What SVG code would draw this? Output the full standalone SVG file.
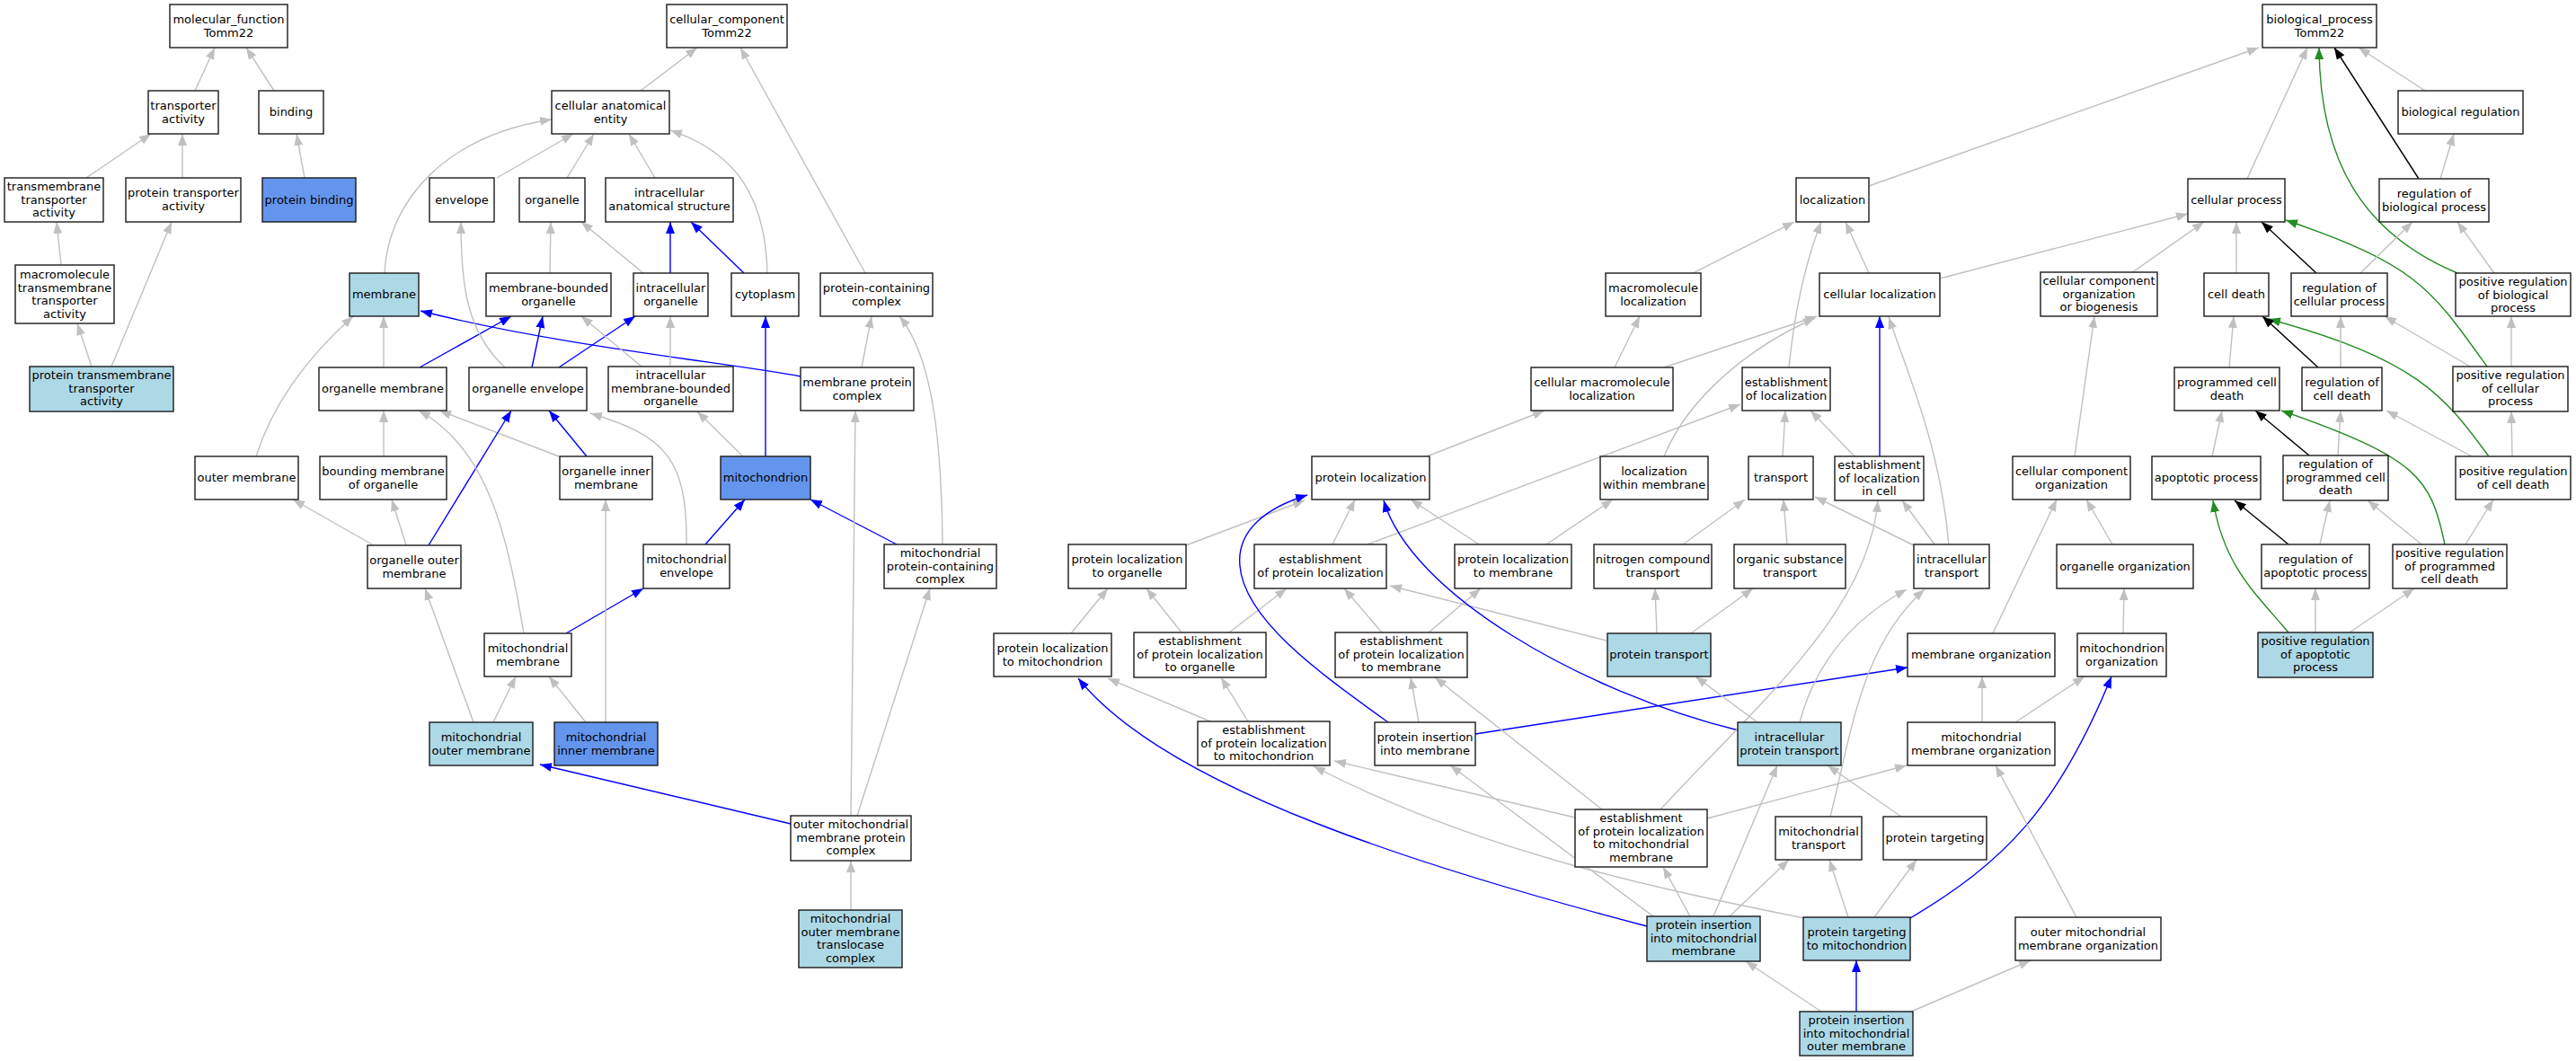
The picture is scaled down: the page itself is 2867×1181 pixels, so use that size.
<svg xmlns="http://www.w3.org/2000/svg" width="2867" height="1181" viewBox="0 0 2867 1181">
<defs>
<marker id="ag" markerWidth="13" markerHeight="10" refX="13" refY="5" orient="auto" markerUnits="userSpaceOnUse"><path d="M0,0 L13,5 L0,10 z" fill="#c0c0c0"/></marker>
<marker id="ab" markerWidth="13" markerHeight="10" refX="13" refY="5" orient="auto" markerUnits="userSpaceOnUse"><path d="M0,0 L13,5 L0,10 z" fill="#0000ff"/></marker>
<marker id="ak" markerWidth="13" markerHeight="10" refX="13" refY="5" orient="auto" markerUnits="userSpaceOnUse"><path d="M0,0 L13,5 L0,10 z" fill="#000000"/></marker>
<marker id="agr" markerWidth="13" markerHeight="10" refX="13" refY="5" orient="auto" markerUnits="userSpaceOnUse"><path d="M0,0 L13,5 L0,10 z" fill="#228b22"/></marker>
</defs>
<style>
.n rect{fill:#ffffff;stroke:#1a1a1a;stroke-width:1.4}
.lb rect{fill:#add8e6}
.cb rect{fill:#6495ed}
text{font-family:"DejaVu Sans","Liberation Sans",sans-serif;font-size:13px;text-anchor:middle;fill:#000}
#edges path{fill:none;stroke-width:1.4}
#edges .g{stroke:#c0c0c0;marker-end:url(#ag)}
#edges .b{stroke:#0000ff;marker-end:url(#ab)}
#edges .k{stroke:#000000;marker-end:url(#ak)}
#edges .gr{stroke:#228b22;marker-end:url(#agr)}
</style>
<rect x="0" y="0" width="2867" height="1181" fill="#ffffff"/>
<g id="edges">
<path class="g" d="M217,101 L239,53"/>
<path class="g" d="M305,101 L274,53"/>
<path class="g" d="M96,198 L168,149"/>
<path class="g" d="M203,198 L203,149"/>
<path class="g" d="M339,198 L330,149"/>
<path class="g" d="M68,295 L63,247"/>
<path class="g" d="M102,408 L86,360"/>
<path class="g" d="M124,408 L191,247"/>
<path class="g" d="M713,101 L776,53"/>
<path class="g" d="M963,304 L824,53"/>
<path class="g" d="M428,304 C432,220 500,150 614,133"/>
<path class="g" d="M553,198 L638,149"/>
<path class="g" d="M631,198 L661,149"/>
<path class="g" d="M729,198 L700,149"/>
<path class="g" d="M854,304 C852,220 820,170 746,145"/>
<path class="b" d="M746,304 L746,247"/>
<path class="b" d="M828,304 L769,247"/>
<path class="g" d="M716,304 L647,247"/>
<path class="g" d="M612,304 L613,247"/>
<path class="g" d="M427,409 L427,352"/>
<path class="g" d="M285,508 C305,445 345,395 393,352"/>
<path class="b" d="M891,419 C820,405 620,385 468,346"/>
<path class="b" d="M467,409 L569,352"/>
<path class="b" d="M592,409 L604,352"/>
<path class="b" d="M622,409 L707,352"/>
<path class="g" d="M562,409 C520,370 513,320 513,247"/>
<path class="g" d="M714,408 L647,352"/>
<path class="g" d="M746,408 L746,352"/>
<path class="b" d="M653,508 L611,457"/>
<path class="g" d="M622,508 L489,457"/>
<path class="b" d="M477,607 L569,457"/>
<path class="g" d="M416,607 L326,556"/>
<path class="g" d="M452,607 L436,556"/>
<path class="g" d="M427,508 L427,457"/>
<path class="g" d="M583,705 C565,600 545,500 466,457"/>
<path class="g" d="M764,606 C765,510 740,485 657,460"/>
<path class="b" d="M630,705 L716,655"/>
<path class="g" d="M827,508 L776,458"/>
<path class="b" d="M852,508 L852,352"/>
<path class="b" d="M785,606 L829,556"/>
<path class="b" d="M998,606 L902,556"/>
<path class="g" d="M1049,606 C1048,500 1040,400 1001,352"/>
<path class="g" d="M959,409 L970,352"/>
<path class="g" d="M947,908 L952,457"/>
<path class="g" d="M954,908 L1035,655"/>
<path class="b" d="M880,917 L601,851"/>
<path class="g" d="M947,1013 L947,958"/>
<path class="g" d="M527,804 L473,655"/>
<path class="g" d="M549,804 L574,753"/>
<path class="g" d="M652,804 L611,753"/>
<path class="g" d="M674,804 L674,556"/>
<path class="g" d="M2080,207 L2514,53"/>
<path class="g" d="M2501,199 L2568,53"/>
<path class="gr" d="M2735,304 C2630,260 2582,180 2581,53"/>
<path class="k" d="M2692,199 L2598,53"/>
<path class="g" d="M2699,101 L2625,53"/>
<path class="g" d="M2716,199 L2731,149"/>
<path class="g" d="M1884,304 L1997,247"/>
<path class="g" d="M1991,409 C1998,340 2010,290 2027,247"/>
<path class="g" d="M2080,304 L2054,247"/>
<path class="g" d="M2159,310 L2435,238"/>
<path class="g" d="M2372,304 L2453,247"/>
<path class="g" d="M2489,304 L2489,247"/>
<path class="k" d="M2578,304 L2517,247"/>
<path class="gr" d="M2768,408 C2705,320 2690,295 2544,245"/>
<path class="gr" d="M2770,508 C2720,440 2690,400 2525,355"/>
<path class="g" d="M2627,304 L2685,247"/>
<path class="g" d="M2776,304 L2735,247"/>
<path class="g" d="M1797,409 L1825,352"/>
<path class="g" d="M1852,409 L2022,352"/>
<path class="g" d="M1852,508 C1880,440 1950,385 2020,354"/>
<path class="g" d="M2481,409 L2486,352"/>
<path class="g" d="M2605,409 L2605,352"/>
<path class="g" d="M2749,408 L2654,352"/>
<path class="g" d="M2795,408 L2795,352"/>
<path class="k" d="M2580,409 L2518,352"/>
<path class="g" d="M1588,508 L1719,457"/>
<path class="g" d="M1984,508 L1987,457"/>
<path class="g" d="M2064,508 L2015,457"/>
<path class="b" d="M2092,508 L2092,352"/>
<path class="g" d="M2169,607 C2160,500 2125,420 2102,353"/>
<path class="g" d="M2309,508 L2331,352"/>
<path class="g" d="M2462,508 L2473,457"/>
<path class="k" d="M2570,507 L2510,457"/>
<path class="g" d="M2602,507 L2605,457"/>
<path class="g" d="M2751,508 L2656,457"/>
<path class="g" d="M2796,508 L2795,458"/>
<path class="gr" d="M2721,606 C2705,530 2690,510 2539,457"/>
<path class="g" d="M1320,607 L1452,557"/>
<path class="g" d="M1483,606 L1508,556"/>
<path class="g" d="M1522,606 L1937,450"/>
<path class="g" d="M1646,606 L1570,556"/>
<path class="g" d="M1721,606 L1795,556"/>
<path class="g" d="M1873,606 L1942,556"/>
<path class="g" d="M1989,606 L1985,556"/>
<path class="g" d="M2130,607 L2020,553"/>
<path class="g" d="M2153,606 L2117,557"/>
<path class="g" d="M2351,606 L2322,556"/>
<path class="k" d="M2547,606 L2487,557"/>
<path class="g" d="M2582,606 L2593,557"/>
<path class="g" d="M2695,606 L2635,557"/>
<path class="g" d="M2744,606 L2775,556"/>
<path class="gr" d="M2547,704 C2510,660 2475,630 2463,557"/>
<path class="g" d="M1192,705 L1233,655"/>
<path class="g" d="M1315,704 L1276,655"/>
<path class="g" d="M1368,704 L1432,655"/>
<path class="g" d="M1538,704 L1496,655"/>
<path class="g" d="M1590,704 L1648,655"/>
<path class="g" d="M1788,713 L1547,652"/>
<path class="g" d="M1844,705 L1842,655"/>
<path class="g" d="M1882,705 L1951,655"/>
<path class="g" d="M2218,705 L2289,556"/>
<path class="g" d="M2363,705 L2364,655"/>
<path class="g" d="M2577,704 L2577,655"/>
<path class="g" d="M2615,704 L2687,655"/>
<path class="g" d="M1347,803 L1233,755"/>
<path class="g" d="M1389,803 L1359,754"/>
<path class="b" d="M1545,804 C1470,750 1385,690 1380,630 C1376,590 1410,565 1455,551"/>
<path class="g" d="M1579,804 L1570,754"/>
<path class="b" d="M1642,817 L2123,743"/>
<path class="b" d="M1935,813 C1760,770 1570,660 1540,557"/>
<path class="g" d="M1956,804 L1887,753"/>
<path class="g" d="M2003,804 C2020,740 2060,690 2122,656"/>
<path class="g" d="M2206,804 L2206,753"/>
<path class="g" d="M2243,804 L2320,753"/>
<path class="g" d="M1753,910 L1485,847"/>
<path class="g" d="M1783,901 L1597,754"/>
<path class="g" d="M1848,901 C1960,780 2080,680 2090,557"/>
<path class="g" d="M1900,911 L2122,852"/>
<path class="g" d="M2037,909 C2060,820 2070,720 2142,656"/>
<path class="g" d="M2116,909 L2034,852"/>
<path class="b" d="M1833,1031 C1600,970 1300,880 1200,755"/>
<path class="g" d="M1840,1020 L1614,852"/>
<path class="g" d="M1881,1020 L1851,965"/>
<path class="g" d="M1907,1020 L1978,852"/>
<path class="g" d="M1925,1020 L1991,957"/>
<path class="g" d="M2057,1021 L2036,957"/>
<path class="g" d="M2086,1021 L2133,957"/>
<path class="g" d="M2008,1022 C1850,990 1650,950 1462,853"/>
<path class="b" d="M2126,1022 C2230,960 2290,900 2350,753"/>
<path class="g" d="M2311,1021 L2221,852"/>
<path class="g" d="M2027,1126 L1943,1070"/>
<path class="b" d="M2066,1126 L2066,1069"/>
<path class="g" d="M2127,1126 L2260,1069"/>
</g>
<g id="mf_root" class="n"><rect x="189" y="5" width="131" height="48"/><text x="254.5" y="26">molecular_function</text><text x="254.5" y="40.5">Tomm22</text></g>
<g id="transporter_activity" class="n"><rect x="165" y="101" width="78" height="48"/><text x="204" y="122">transporter</text><text x="204" y="136.5">activity</text></g>
<g id="binding" class="n"><rect x="288" y="101" width="72" height="48"/><text x="324" y="129">binding</text></g>
<g id="tm_transporter_activity" class="n"><rect x="5" y="198" width="110" height="49"/><text x="60" y="212">transmembrane</text><text x="60" y="226.5">transporter</text><text x="60" y="241">activity</text></g>
<g id="protein_transporter_activity" class="n"><rect x="140" y="198" width="128" height="49"/><text x="204" y="219">protein transporter</text><text x="204" y="233.5">activity</text></g>
<g id="protein_binding" class="n cb"><rect x="292" y="198" width="104" height="49"/><text x="344" y="226.5">protein binding</text></g>
<g id="macromolecule_tm_transporter" class="n"><rect x="17" y="295" width="110" height="65"/><text x="72" y="310">macromolecule</text><text x="72" y="324.5">transmembrane</text><text x="72" y="339">transporter</text><text x="72" y="353.5">activity</text></g>
<g id="protein_tm_transporter" class="n lb"><rect x="33" y="408" width="160" height="50"/><text x="113" y="422">protein transmembrane</text><text x="113" y="436.5">transporter</text><text x="113" y="451">activity</text></g>
<g id="cc_root" class="n"><rect x="742" y="5" width="134" height="48"/><text x="809" y="26">cellular_component</text><text x="809" y="40.5">Tomm22</text></g>
<g id="cellular_anatomical_entity" class="n"><rect x="614" y="101" width="131" height="48"/><text x="679.5" y="122">cellular anatomical</text><text x="679.5" y="136.5">entity</text></g>
<g id="envelope" class="n"><rect x="478" y="198" width="72" height="49"/><text x="514" y="226.5">envelope</text></g>
<g id="organelle" class="n"><rect x="578" y="198" width="73" height="49"/><text x="614.5" y="226.5">organelle</text></g>
<g id="intracellular_anatomical_structure" class="n"><rect x="674" y="198" width="142" height="49"/><text x="745" y="219">intracellular</text><text x="745" y="233.5">anatomical structure</text></g>
<g id="membrane" class="n lb"><rect x="389" y="304" width="77" height="48"/><text x="427.5" y="332">membrane</text></g>
<g id="membrane_bounded_organelle" class="n"><rect x="541" y="304" width="139" height="48"/><text x="610.5" y="325">membrane-bounded</text><text x="610.5" y="339.5">organelle</text></g>
<g id="intracellular_organelle" class="n"><rect x="705" y="304" width="83" height="48"/><text x="746.5" y="325">intracellular</text><text x="746.5" y="339.5">organelle</text></g>
<g id="cytoplasm" class="n"><rect x="814" y="304" width="75" height="48"/><text x="851.5" y="332">cytoplasm</text></g>
<g id="protein_containing_complex" class="n"><rect x="913" y="304" width="125" height="48"/><text x="975.5" y="325">protein-containing</text><text x="975.5" y="339.5">complex</text></g>
<g id="organelle_membrane" class="n"><rect x="355" y="409" width="142" height="48"/><text x="426" y="437">organelle membrane</text></g>
<g id="organelle_envelope" class="n"><rect x="522" y="409" width="131" height="48"/><text x="587.5" y="437">organelle envelope</text></g>
<g id="intracellular_mbo" class="n"><rect x="677" y="408" width="139" height="50"/><text x="746.5" y="422">intracellular</text><text x="746.5" y="436.5">membrane-bounded</text><text x="746.5" y="451">organelle</text></g>
<g id="membrane_protein_complex" class="n"><rect x="891" y="409" width="126" height="48"/><text x="954" y="430">membrane protein</text><text x="954" y="444.5">complex</text></g>
<g id="outer_membrane" class="n"><rect x="217" y="508" width="115" height="48"/><text x="274.5" y="536">outer membrane</text></g>
<g id="bounding_membrane" class="n"><rect x="356" y="508" width="141" height="48"/><text x="426.5" y="529">bounding membrane</text><text x="426.5" y="543.5">of organelle</text></g>
<g id="organelle_inner_membrane" class="n"><rect x="623" y="508" width="103" height="48"/><text x="674.5" y="529">organelle inner</text><text x="674.5" y="543.5">membrane</text></g>
<g id="mitochondrion" class="n cb"><rect x="802" y="508" width="100" height="48"/><text x="852" y="536">mitochondrion</text></g>
<g id="organelle_outer_membrane" class="n"><rect x="409" y="607" width="104" height="48"/><text x="461" y="628">organelle outer</text><text x="461" y="642.5">membrane</text></g>
<g id="mitochondrial_envelope" class="n"><rect x="716" y="606" width="96" height="49"/><text x="764" y="627">mitochondrial</text><text x="764" y="641.5">envelope</text></g>
<g id="mito_protein_containing_complex" class="n"><rect x="984" y="606" width="125" height="49"/><text x="1046.5" y="620">mitochondrial</text><text x="1046.5" y="634.5">protein-containing</text><text x="1046.5" y="649">complex</text></g>
<g id="mitochondrial_membrane" class="n"><rect x="539" y="705" width="97" height="48"/><text x="587.5" y="726">mitochondrial</text><text x="587.5" y="740.5">membrane</text></g>
<g id="mito_outer_membrane" class="n lb"><rect x="478" y="804" width="115" height="48"/><text x="535.5" y="825">mitochondrial</text><text x="535.5" y="839.5">outer membrane</text></g>
<g id="mito_inner_membrane" class="n cb"><rect x="617" y="804" width="115" height="48"/><text x="674.5" y="825">mitochondrial</text><text x="674.5" y="839.5">inner membrane</text></g>
<g id="outer_mito_membrane_protein_complex" class="n"><rect x="880" y="908" width="134" height="50"/><text x="947" y="922">outer mitochondrial</text><text x="947" y="936.5">membrane protein</text><text x="947" y="951">complex</text></g>
<g id="mito_outer_membrane_translocase" class="n lb"><rect x="889" y="1013" width="115" height="64"/><text x="946.5" y="1027">mitochondrial</text><text x="946.5" y="1041.5">outer membrane</text><text x="946.5" y="1056">translocase</text><text x="946.5" y="1070.5">complex</text></g>
<g id="bp_root" class="n"><rect x="2518" y="5" width="127" height="48"/><text x="2581.5" y="26">biological_process</text><text x="2581.5" y="40.5">Tomm22</text></g>
<g id="biological_regulation" class="n"><rect x="2669" y="101" width="139" height="48"/><text x="2738.5" y="129">biological regulation</text></g>
<g id="localization" class="n"><rect x="1999" y="198" width="81" height="49"/><text x="2039.5" y="226.5">localization</text></g>
<g id="cellular_process" class="n"><rect x="2435" y="199" width="108" height="48"/><text x="2489" y="227">cellular process</text></g>
<g id="regulation_of_biological_process" class="n"><rect x="2648" y="199" width="122" height="48"/><text x="2709" y="220">regulation of</text><text x="2709" y="234.5">biological process</text></g>
<g id="macromolecule_localization" class="n"><rect x="1787" y="304" width="106" height="48"/><text x="1840" y="325">macromolecule</text><text x="1840" y="339.5">localization</text></g>
<g id="cellular_localization" class="n"><rect x="2025" y="304" width="134" height="48"/><text x="2092" y="332">cellular localization</text></g>
<g id="ccoob" class="n"><rect x="2271" y="303" width="130" height="49"/><text x="2336" y="317">cellular component</text><text x="2336" y="331.5">organization</text><text x="2336" y="346">or biogenesis</text></g>
<g id="cell_death" class="n"><rect x="2453" y="304" width="72" height="48"/><text x="2489" y="332">cell death</text></g>
<g id="regulation_of_cellular_process" class="n"><rect x="2550" y="304" width="107" height="48"/><text x="2603.5" y="325">regulation of</text><text x="2603.5" y="339.5">cellular process</text></g>
<g id="pos_reg_biological_process" class="n"><rect x="2733" y="304" width="128" height="48"/><text x="2797" y="318">positive regulation</text><text x="2797" y="332.5">of biological</text><text x="2797" y="347">process</text></g>
<g id="cellular_macromolecule_localization" class="n"><rect x="1704" y="409" width="158" height="48"/><text x="1783" y="430">cellular macromolecule</text><text x="1783" y="444.5">localization</text></g>
<g id="establishment_of_localization" class="n"><rect x="1939" y="409" width="98" height="48"/><text x="1988" y="430">establishment</text><text x="1988" y="444.5">of localization</text></g>
<g id="programmed_cell_death" class="n"><rect x="2420" y="409" width="117" height="48"/><text x="2478.5" y="430">programmed cell</text><text x="2478.5" y="444.5">death</text></g>
<g id="regulation_of_cell_death" class="n"><rect x="2562" y="409" width="89" height="48"/><text x="2606.5" y="430">regulation of</text><text x="2606.5" y="444.5">cell death</text></g>
<g id="pos_reg_cellular_process" class="n"><rect x="2730" y="408" width="128" height="50"/><text x="2794" y="422">positive regulation</text><text x="2794" y="436.5">of cellular</text><text x="2794" y="451">process</text></g>
<g id="protein_localization" class="n"><rect x="1460" y="508" width="131" height="48"/><text x="1525.5" y="536">protein localization</text></g>
<g id="localization_within_membrane" class="n"><rect x="1781" y="508" width="120" height="48"/><text x="1841" y="529">localization</text><text x="1841" y="543.5">within membrane</text></g>
<g id="transport" class="n"><rect x="1946" y="508" width="72" height="48"/><text x="1982" y="536">transport</text></g>
<g id="establishment_of_localization_in_cell" class="n"><rect x="2042" y="508" width="99" height="49"/><text x="2091.5" y="522">establishment</text><text x="2091.5" y="536.5">of localization</text><text x="2091.5" y="551">in cell</text></g>
<g id="cellular_component_organization" class="n"><rect x="2240" y="508" width="131" height="48"/><text x="2305.5" y="529">cellular component</text><text x="2305.5" y="543.5">organization</text></g>
<g id="apoptotic_process" class="n"><rect x="2395" y="508" width="121" height="48"/><text x="2455.5" y="536">apoptotic process</text></g>
<g id="regulation_of_programmed_cell_death" class="n"><rect x="2541" y="507" width="117" height="50"/><text x="2599.5" y="521">regulation of</text><text x="2599.5" y="535.5">programmed cell</text><text x="2599.5" y="550">death</text></g>
<g id="pos_reg_cell_death" class="n"><rect x="2733" y="508" width="128" height="48"/><text x="2797" y="529">positive regulation</text><text x="2797" y="543.5">of cell death</text></g>
<g id="protein_localization_to_organelle" class="n"><rect x="1189" y="606" width="131" height="49"/><text x="1254.5" y="627">protein localization</text><text x="1254.5" y="641.5">to organelle</text></g>
<g id="establishment_of_protein_localization" class="n"><rect x="1396" y="606" width="147" height="49"/><text x="1469.5" y="627">establishment</text><text x="1469.5" y="641.5">of protein localization</text></g>
<g id="protein_localization_to_membrane" class="n"><rect x="1619" y="606" width="130" height="49"/><text x="1684" y="627">protein localization</text><text x="1684" y="641.5">to membrane</text></g>
<g id="nitrogen_compound_transport" class="n"><rect x="1774" y="606" width="131" height="49"/><text x="1839.5" y="627">nitrogen compound</text><text x="1839.5" y="641.5">transport</text></g>
<g id="organic_substance_transport" class="n"><rect x="1930" y="606" width="124" height="49"/><text x="1992" y="627">organic substance</text><text x="1992" y="641.5">transport</text></g>
<g id="intracellular_transport" class="n"><rect x="2130" y="606" width="84" height="49"/><text x="2172" y="627">intracellular</text><text x="2172" y="641.5">transport</text></g>
<g id="organelle_organization" class="n"><rect x="2289" y="606" width="152" height="49"/><text x="2365" y="634.5">organelle organization</text></g>
<g id="regulation_of_apoptotic_process" class="n"><rect x="2517" y="606" width="120" height="49"/><text x="2577" y="627">regulation of</text><text x="2577" y="641.5">apoptotic process</text></g>
<g id="pos_reg_programmed_cell_death" class="n"><rect x="2663" y="606" width="127" height="49"/><text x="2726.5" y="620">positive regulation</text><text x="2726.5" y="634.5">of programmed</text><text x="2726.5" y="649">cell death</text></g>
<g id="protein_localization_to_mitochondrion" class="n"><rect x="1106" y="705" width="131" height="48"/><text x="1171.5" y="726">protein localization</text><text x="1171.5" y="740.5">to mitochondrion</text></g>
<g id="est_protein_localization_to_organelle" class="n"><rect x="1262" y="704" width="147" height="50"/><text x="1335.5" y="718">establishment</text><text x="1335.5" y="732.5">of protein localization</text><text x="1335.5" y="747">to organelle</text></g>
<g id="est_protein_localization_to_membrane" class="n"><rect x="1486" y="704" width="147" height="50"/><text x="1559.5" y="718">establishment</text><text x="1559.5" y="732.5">of protein localization</text><text x="1559.5" y="747">to membrane</text></g>
<g id="protein_transport" class="n lb"><rect x="1789" y="705" width="115" height="48"/><text x="1846.5" y="733">protein transport</text></g>
<g id="membrane_organization" class="n"><rect x="2123" y="705" width="164" height="48"/><text x="2205" y="733">membrane organization</text></g>
<g id="mitochondrion_organization" class="n"><rect x="2312" y="705" width="99" height="48"/><text x="2361.5" y="726">mitochondrion</text><text x="2361.5" y="740.5">organization</text></g>
<g id="pos_reg_apoptotic_process" class="n lb"><rect x="2513" y="704" width="128" height="50"/><text x="2577" y="718">positive regulation</text><text x="2577" y="732.5">of apoptotic</text><text x="2577" y="747">process</text></g>
<g id="est_protein_localization_to_mitochondrion" class="n"><rect x="1333" y="803" width="147" height="49"/><text x="1406.5" y="817">establishment</text><text x="1406.5" y="831.5">of protein localization</text><text x="1406.5" y="846">to mitochondrion</text></g>
<g id="protein_insertion_into_membrane" class="n"><rect x="1530" y="804" width="112" height="48"/><text x="1586" y="825">protein insertion</text><text x="1586" y="839.5">into membrane</text></g>
<g id="intracellular_protein_transport" class="n lb"><rect x="1934" y="804" width="115" height="48"/><text x="1991.5" y="825">intracellular</text><text x="1991.5" y="839.5">protein transport</text></g>
<g id="mitochondrial_membrane_organization" class="n"><rect x="2123" y="804" width="164" height="48"/><text x="2205" y="825">mitochondrial</text><text x="2205" y="839.5">membrane organization</text></g>
<g id="est_protein_localization_to_mito_membrane" class="n"><rect x="1753" y="901" width="147" height="64"/><text x="1826.5" y="915">establishment</text><text x="1826.5" y="929.5">of protein localization</text><text x="1826.5" y="944">to mitochondrial</text><text x="1826.5" y="958.5">membrane</text></g>
<g id="mitochondrial_transport" class="n"><rect x="1976" y="909" width="96" height="48"/><text x="2024" y="930">mitochondrial</text><text x="2024" y="944.5">transport</text></g>
<g id="protein_targeting" class="n"><rect x="2096" y="909" width="115" height="48"/><text x="2153.5" y="937">protein targeting</text></g>
<g id="protein_insertion_into_mito_membrane" class="n lb"><rect x="1833" y="1020" width="126" height="50"/><text x="1896" y="1034">protein insertion</text><text x="1896" y="1048.5">into mitochondrial</text><text x="1896" y="1063">membrane</text></g>
<g id="protein_targeting_to_mitochondrion" class="n lb"><rect x="2007" y="1021" width="119" height="48"/><text x="2066.5" y="1042">protein targeting</text><text x="2066.5" y="1056.5">to mitochondrion</text></g>
<g id="outer_mito_membrane_organization" class="n"><rect x="2243" y="1021" width="162" height="48"/><text x="2324" y="1042">outer mitochondrial</text><text x="2324" y="1056.5">membrane organization</text></g>
<g id="protein_insertion_into_mito_outer_membrane" class="n lb"><rect x="2003" y="1126" width="126" height="49"/><text x="2066" y="1140">protein insertion</text><text x="2066" y="1154.5">into mitochondrial</text><text x="2066" y="1169">outer membrane</text></g>
</svg>
